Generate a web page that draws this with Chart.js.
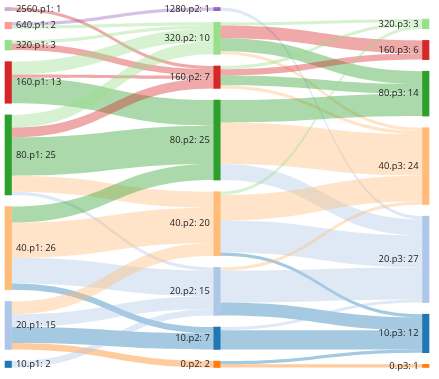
<!DOCTYPE html>
<html><head><meta charset="utf-8">
<script src="https://cdn.jsdelivr.net/npm/chart.js@4/dist/chart.umd.min.js"></script>
<style>html,body{margin:0;padding:0;background:#fff}canvas{display:block}</style>
</head><body>
<canvas id="c" width="439" height="379"></canvas>
<script>
// ---- data ----
const stages = ['p1', 'p2', 'p3'];
const namesP1 = ['2560', '640', '320', '160', '80', '40', '20', '10'];
const valuesP1 = [1, 2, 3, 13, 25, 26, 15, 2];
const namesP2 = ['1280', '320', '160', '80', '40', '20', '10', '0'];
const valuesP2 = [1, 10, 7, 25, 20, 15, 7, 2];
const namesP3 = ['320', '160', '80', '40', '20', '10', '0'];
const valuesP3 = [3, 6, 14, 24, 27, 12, 1];

// flows p1 -> p2
const from12 = ['2560','640','640','320','320','160','160','160','80','80','80','80','80','40','40','40','40','20','20','20','20','10'];
const to12   = ['160','1280','320','320','160','320','160','80','320','160','80','40','20','80','40','20','10','40','20','10','0','20'];
const flow12 = [1, 1, 1, 1, 2, 4, 1, 8, 4, 3, 12, 5, 1, 5, 11, 8, 2, 4, 4, 5, 2, 2];
// flows p2 -> p3
const from23 = ['1280','320','320','320','320','160','160','160','160','80','80','80','40','40','40','40','20','20','20','10','10','0','0'];
const to23   = ['20','320','160','80','40','320','160','80','40','80','40','20','320','40','20','10','40','20','10','20','10','10','0'];
const flow23 = [1, 1, 4, 4, 1, 1, 2, 3, 1, 7, 13, 5, 1, 8, 10, 1, 1, 10, 4, 1, 6, 1, 1];

const colorOf = {
  '2560': '#c5b0d5', '1280': '#9467bd', '640': '#ff9896', '320': '#98df8a',
  '160': '#d62728', '80': '#2ca02c', '40': '#ffbb78', '20': '#aec7e8',
  '10': '#1f77b4', '0': '#ff7f0e'
};

// ---- layout (in value units) ----
const GAP = 3.64;          // gap between nodes, in value units
const NODE_W = 6.5;        // node thickness, px
const columns = [
  {names: namesP1, values: valuesP1},
  {names: namesP2, values: valuesP2},
  {names: namesP3, values: valuesP3}
];
const yMax = Math.max(...columns.map(c => c.values.reduce((a, b) => a + b, 0) + (c.values.length - 1) * GAP));
columns.forEach(c => {
  const h = c.values.reduce((a, b) => a + b, 0) + (c.values.length - 1) * GAP;
  let y = yMax - h;
  c.y0 = []; c.y1 = [];
  c.values.forEach(v => { c.y0.push(y); c.y1.push(y + v); y += v + GAP; });
});

function buildLinks(col, fromArr, toArr, valArr) {
  const s = columns[col], t = columns[col + 1];
  const links = fromArr.map((f, i) => ({
    si: s.names.indexOf(f), ti: t.names.indexOf(toArr[i]), v: valArr[i], col, color: colorOf[toArr[i]]
  }));
  const outOff = s.y0.slice(), inOff = t.y0.slice();
  links.slice().sort((a, b) => a.si - b.si || a.ti - b.ti).forEach(l => { l.sy0 = outOff[l.si]; outOff[l.si] += l.v; l.sy1 = outOff[l.si]; });
  links.slice().sort((a, b) => a.ti - b.ti || a.si - b.si).forEach(l => { l.ty0 = inOff[l.ti]; inOff[l.ti] += l.v; l.ty1 = inOff[l.ti]; });
  return links;
}
const links = buildLinks(0, from12, to12, flow12).concat(buildLinks(1, from23, to23, flow23));

const nodeBars = [], nodeColors = [], nodeLabels = [];
columns.forEach((c, ci) => c.names.forEach((n, i) => {
  nodeBars.push({x: ci, y: [c.y0[i], c.y1[i]]});
  nodeColors.push(colorOf[n]);
  nodeLabels.push(n + '.' + stages[ci] + ': ' + c.values[i]);
}));

function hexA(hex, a) {
  const n = parseInt(hex.slice(1), 16);
  return `rgba(${n >> 16},${(n >> 8) & 255},${n & 255},${a})`;
}

const flowPlugin = {
  id: 'flows',
  beforeDatasetsDraw(chart) {
    const {ctx, scales: {x, y}} = chart;
    ctx.save();
    links.forEach(l => {
      const sx = x.getPixelForValue(l.col) + NODE_W / 2;
      const tx = x.getPixelForValue(l.col + 1) - NODE_W / 2;
      const mx = (sx + tx) / 2;
      const a0 = y.getPixelForValue(l.sy0), a1 = y.getPixelForValue(l.sy1);
      const b0 = y.getPixelForValue(l.ty0), b1 = y.getPixelForValue(l.ty1);
      ctx.beginPath();
      ctx.moveTo(sx, a0);
      ctx.bezierCurveTo(mx, a0, mx, b0, tx, b0);
      ctx.lineTo(tx, b1);
      ctx.bezierCurveTo(mx, b1, mx, a1, sx, a1);
      ctx.closePath();
      ctx.fillStyle = hexA(l.color, 0.4);
      ctx.fill();
    });
    ctx.restore();
  },
  afterDatasetsDraw(chart) {
    const {ctx, scales: {x, y}} = chart;
    ctx.save();
    ctx.font = '9.4px "Open Sans"';
    ctx.fillStyle = '#222';
    ctx.textBaseline = 'middle';
    nodeBars.forEach((b, i) => {
      const cy = y.getPixelForValue((b.y[0] + b.y[1]) / 2);
      const cx = x.getPixelForValue(b.x);
      if (b.x === 0) { ctx.textAlign = 'left'; ctx.fillText(nodeLabels[i], cx + NODE_W / 2 + 4.5, cy); }
      else { ctx.textAlign = 'right'; ctx.fillText(nodeLabels[i], cx - NODE_W / 2 - 4, cy); }
    });
    ctx.restore();
  }
};

new Chart(document.getElementById('c'), {
  type: 'bar',
  data: {datasets: [{data: nodeBars, backgroundColor: nodeColors, borderWidth: 0, barThickness: NODE_W, clip: false}]},
  options: {
    responsive: false, animation: false, devicePixelRatio: 1,
    layout: {padding: {left: 8.25, right: 13.25, top: 7.5, bottom: 11.5}},
    scales: {
      x: {type: 'linear', min: 0, max: 2, display: false, offset: false},
      y: {type: 'linear', min: 0, max: yMax, reverse: true, display: false}
    },
    plugins: {legend: {display: false}, tooltip: {enabled: false}}
  },
  plugins: [flowPlugin]
});
</script>
</body></html>
